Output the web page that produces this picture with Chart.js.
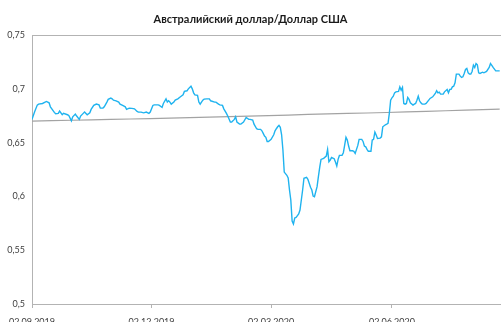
<!DOCTYPE html>
<html>
<head>
<meta charset="utf-8">
<script src="https://cdn.jsdelivr.net/npm/chart.js@4.4.1/dist/chart.umd.min.js"></script>
<style>
  html, body { margin: 0; padding: 0; background: #fff; overflow: hidden; }
  canvas { display: block; }
</style>
</head>
<body>
<canvas id="chart" width="501" height="322"></canvas>
<script>
// Day offsets are counted from 02.09.2019
const startDate = Date.UTC(2019, 8, 2);

const rateDays = [
  0, 2, 4, 5, 8, 11, 13, 14, 17, 18, 20, 21, 23, 24, 27, 28, 30, 31, 33, 34,
  36, 37, 39, 40, 42, 44, 45, 47, 49, 51, 52, 54, 55, 57, 58, 60, 61, 62, 64, 66,
  67, 69, 71, 72, 74, 76, 78, 80, 81, 83, 85, 87, 89, 90, 92, 93, 96, 97, 99, 100,
  102, 103, 104, 105, 106, 108, 109, 111, 113, 115, 116, 118, 119, 121, 122, 123, 124, 126, 127, 128,
  130, 131, 133, 135, 136, 139, 140, 142, 143, 145, 146, 148, 149, 151, 152, 154, 155, 156, 158, 159,
  161, 163, 165, 166, 168, 169, 171, 172, 174, 175, 176, 177, 178, 179, 180, 182, 184, 185, 186, 187,
  188, 189, 190, 191, 192, 194, 195, 196, 197, 198, 199, 200, 201, 203, 204, 205, 206, 207, 209, 210,
  212, 213, 214, 215, 217, 218, 219, 220, 222, 224, 225, 226, 227, 228, 230, 231, 232, 233, 234, 236,
  237, 238, 239, 240, 241, 242, 244, 245, 246, 248, 249, 251, 252, 253, 254, 255, 256, 258, 259, 260,
  261, 262, 263, 265, 266, 267, 269, 270, 271, 272, 273, 274, 275, 276, 277, 279, 280, 281, 282, 283,
  284, 285, 286, 287, 288, 290, 291, 292, 293, 294, 295, 296, 297, 299, 300, 302, 303, 305, 306, 307,
  308, 309, 310, 311, 313, 314, 316, 317, 318, 319, 320, 321, 322, 323, 325, 326, 327, 328, 329, 330,
  331, 332, 333, 334, 335, 336, 337, 338, 339, 340, 341, 343, 344, 346, 348, 349, 350, 351, 353, 354,
  356
];

const audUsd = [
  0.6717, 0.6787, 0.6850, 0.6859, 0.6865, 0.6884, 0.6871, 0.6834, 0.6782, 0.6769, 0.6773, 0.6794, 0.6760, 0.6773, 0.6760, 0.6754, 0.6704, 0.6741, 0.6766, 0.6748,
  0.6717, 0.6748, 0.6773, 0.6785, 0.6760, 0.6778, 0.6810, 0.6847, 0.6859, 0.6852, 0.6822, 0.6822, 0.6834, 0.6878, 0.6903, 0.6915, 0.6908, 0.6896, 0.6890, 0.6878,
  0.6859, 0.6847, 0.6834, 0.6810, 0.6822, 0.6819, 0.6815, 0.6791, 0.6785, 0.6785, 0.6778, 0.6785, 0.6773, 0.6785, 0.6847, 0.6852, 0.6852, 0.6847, 0.6828, 0.6865,
  0.6908, 0.6878, 0.6890, 0.6878, 0.6859, 0.6878, 0.6896, 0.6908, 0.6927, 0.6945, 0.6977, 0.6983, 0.7001, 0.7026, 0.7001, 0.6964, 0.6945, 0.6940, 0.6878, 0.6859,
  0.6896, 0.6905, 0.6908, 0.6908, 0.6890, 0.6878, 0.6878, 0.6859, 0.6852, 0.6847, 0.6815, 0.6773, 0.6748, 0.6692, 0.6692, 0.6717, 0.6741, 0.6692, 0.6673, 0.6673,
  0.6692, 0.6735, 0.6717, 0.6717, 0.6710, 0.6673, 0.6630, 0.6624, 0.6624, 0.6611, 0.6587, 0.6562, 0.6550, 0.6512, 0.6512, 0.6531, 0.6574, 0.6611, 0.6630, 0.6648,
  0.6661, 0.6643, 0.6574, 0.6432, 0.6227, 0.6197, 0.6172, 0.6060, 0.5967, 0.5772, 0.5744, 0.5800, 0.5806, 0.5837, 0.5874, 0.5967, 0.6060, 0.6169, 0.6178, 0.6159,
  0.6085, 0.6060, 0.6004, 0.5998, 0.6091, 0.6184, 0.6271, 0.6345, 0.6355, 0.6376, 0.6438, 0.6323, 0.6339, 0.6364, 0.6351, 0.6320, 0.6283, 0.6345, 0.6382, 0.6382,
  0.6407, 0.6478, 0.6550, 0.6525, 0.6469, 0.6425, 0.6425, 0.6420, 0.6401, 0.6475, 0.6531, 0.6531, 0.6512, 0.6469, 0.6462, 0.6438, 0.6420, 0.6420, 0.6525, 0.6531,
  0.6599, 0.6571, 0.6540, 0.6543, 0.6555, 0.6648, 0.6667, 0.6673, 0.6680, 0.6773, 0.6896, 0.6918, 0.6933, 0.6964, 0.6973, 0.6977, 0.7020, 0.6989, 0.7014, 0.6865,
  0.6859, 0.6865, 0.6921, 0.6903, 0.6871, 0.6850, 0.6859, 0.6865, 0.6896, 0.6933, 0.6890, 0.6871, 0.6859, 0.6859, 0.6865, 0.6896, 0.6912, 0.6927, 0.6943, 0.6958,
  0.6983, 0.6964, 0.6970, 0.6952, 0.6952, 0.6973, 0.6996, 0.6964, 0.6996, 0.6996, 0.7020, 0.7026, 0.7057, 0.7138, 0.7138, 0.7119, 0.7107, 0.7113, 0.7144, 0.7181,
  0.7191, 0.7150, 0.7138, 0.7138, 0.7163, 0.7221, 0.7200, 0.7237, 0.7224, 0.7150, 0.7144, 0.7156, 0.7150, 0.7163, 0.7200, 0.7237, 0.7219, 0.7200, 0.7168, 0.7168,
  0.7168
];

// Long-term average line
const trendDays = [0, 30, 60, 90, 120, 150, 180, 210, 240, 270, 300, 330, 356];
const trendValues = [0.6700, 0.6709, 0.6717, 0.6724, 0.6733, 0.6742, 0.6752, 0.6763, 0.6772, 0.6781, 0.6792, 0.6803, 0.6812];

const xTickDays = [0, 91, 182, 274];
const yTickValues = [0.5, 0.55, 0.6, 0.65, 0.7, 0.75];

const axisGray = '#b3b3b3';
const fontFamily = 'Lato, "Open Sans", sans-serif';

function formatDay(day) {
  const d = new Date(startDate + day * 86400000);
  const dd = String(d.getUTCDate()).padStart(2, '0');
  const mm = String(d.getUTCMonth() + 1).padStart(2, '0');
  return dd + '.' + mm + '.' + d.getUTCFullYear();
}

function formatRate(v) {
  return String(Math.round(v * 100) / 100).replace('.', ',');
}

new Chart(document.getElementById('chart'), {
  type: 'line',
  data: {
    datasets: [
      {
        data: rateDays.map((d, i) => ({ x: d, y: audUsd[i] })),
        borderColor: '#1fb3ef',
        borderWidth: 1.4,
        pointRadius: 0,
        tension: 0,
        fill: false
      },
      {
        data: trendDays.map((d, i) => ({ x: d, y: trendValues[i] })),
        borderColor: '#a3a3a3',
        borderWidth: 1.2,
        pointRadius: 0,
        tension: 0.4,
        fill: false
      }
    ]
  },
  options: {
    responsive: false,
    animation: false,
    devicePixelRatio: 1,
    layout: { padding: 0 },
    plugins: {
      legend: { display: false },
      tooltip: { enabled: false },
      title: {
        display: true,
        text: 'Австралийский доллар/Доллар США',
        color: '#1a1a1a',
        font: { family: fontFamily, size: 11, weight: 'bold', lineHeight: 1.2 },
        padding: { top: 13, bottom: 9 }
      }
    },
    scales: {
      x: {
        type: 'linear',
        min: 0,
        max: 357,
        afterBuildTicks: (scale) => { scale.ticks = xTickDays.map(v => ({ value: v })); },
        afterFit: (scale) => { scale.height = 18; },
        ticks: {
          autoSkip: false,
          maxRotation: 0,
          padding: 9,
          color: '#404040',
          font: { family: fontFamily, size: 9 },
          callback: (v) => formatDay(v)
        },
        grid: { display: true, drawOnChartArea: false, tickLength: 4, color: axisGray },
        border: { display: true, color: axisGray, width: 1 }
      },
      y: {
        type: 'linear',
        min: 0.5,
        max: 0.75,
        afterBuildTicks: (scale) => { scale.ticks = yTickValues.map(v => ({ value: v })); },
        afterFit: (scale) => { scale.width = 31; },
        ticks: {
          padding: 7,
          color: '#404040',
          font: { family: fontFamily, size: 9 },
          callback: (v) => formatRate(v)
        },
        grid: {
          display: true,
          drawTicks: false,
          color: (ctx) => (ctx.tick && Math.abs(ctx.tick.value - 0.75) < 1e-9 ? axisGray : 'rgba(0,0,0,0)')
        },
        border: { display: true, color: axisGray, width: 1 }
      }
    }
  }
});
</script>
</body>
</html>
